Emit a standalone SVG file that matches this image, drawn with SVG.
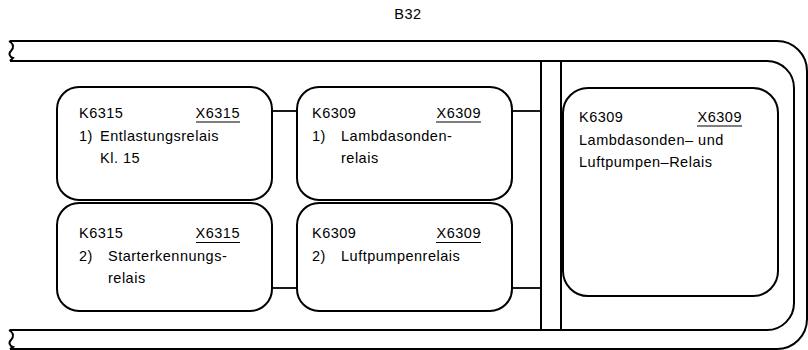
<svg xmlns="http://www.w3.org/2000/svg" width="808" height="350" viewBox="0 0 808 350">
<style>
.ln{fill:none;stroke:#000;stroke-width:2}
.bx{fill:#fff;stroke:#000;stroke-width:2}
.cn{fill:none;stroke:#000;stroke-width:1.8}
text{font-family:"Liberation Sans",Arial,sans-serif;font-size:14.5px;letter-spacing:0.5px;fill:#000}
.ul{stroke:#000;stroke-width:1.2}
</style>
<rect width="808" height="350" fill="#fff"/>
<text x="408" y="18.5" text-anchor="middle">B32</text>
<g id="frame">
<path class="ln" d="M10,41 H777 A30,30 0 0 1 807,71 V319 A30,30 0 0 1 777,349 H10"/>
<path class="ln" d="M10,61 H767 A27,27 0 0 1 794,88 V303 A27,27 0 0 1 767,330 H10"/>
<path class="ln" d="M9,41 C14,44 14,48 11,51 C8,54 10,57 13,58 L10,61"/>
<path class="ln" d="M9,330 C14,333 14,337 11,340 C8,343 10,346 13,347 L10,349"/>
<line class="ln" x1="541" y1="61" x2="541" y2="330"/>
<line class="ln" x1="561" y1="61" x2="561" y2="330"/>
</g>
<g id="connectors">
<line class="cn" x1="272" y1="111" x2="297" y2="111"/>
<line class="cn" x1="512" y1="111" x2="541" y2="111"/>
<line class="cn" x1="272" y1="288" x2="297" y2="288"/>
<line class="cn" x1="512" y1="288" x2="541" y2="288"/>
</g>
<g id="K6315-1">
<rect class="bx" x="57" y="87" width="215" height="113" rx="22"/>
<text x="79" y="118">K6315</text>
<text x="240" y="118" text-anchor="end">X6315</text>
<line class="ul" x1="196" y1="122" x2="240" y2="122"/>
<text x="79" y="140.5">1)</text>
<text x="100" y="140.5">Entlastungsrelais</text>
<text x="100" y="163">Kl. 15</text>
</g>
<g id="K6315-2">
<rect class="bx" x="57" y="203" width="215" height="108" rx="22"/>
<text x="79" y="238">K6315</text>
<text x="240" y="238" text-anchor="end">X6315</text>
<line class="ul" x1="196" y1="242.5" x2="240" y2="242.5"/>
<text x="79" y="260.5">2)</text>
<text x="108" y="260.5">Starterkennungs-</text>
<text x="108" y="283">relais</text>
</g>
<g id="K6309-1">
<rect class="bx" x="297" y="87" width="215" height="113" rx="22"/>
<text x="312" y="118">K6309</text>
<text x="481" y="118" text-anchor="end">X6309</text>
<line class="ul" x1="436" y1="122" x2="481" y2="122"/>
<text x="312" y="140.5">1)</text>
<text x="341" y="140.5">Lambdasonden-</text>
<text x="341" y="163">relais</text>
</g>
<g id="K6309-2">
<rect class="bx" x="297" y="203" width="215" height="108" rx="22"/>
<text x="312" y="238">K6309</text>
<text x="481" y="238" text-anchor="end">X6309</text>
<line class="ul" x1="436" y1="242.5" x2="481" y2="242.5"/>
<text x="312" y="260.5">2)</text>
<text x="341" y="260.5">Luftpumpenrelais</text>
</g>
<g id="K6309-3">
<rect class="bx" x="563" y="88" width="215" height="208" rx="25"/>
<text x="579" y="122">K6309</text>
<text x="742" y="122" text-anchor="end">X6309</text>
<line class="ul" x1="697" y1="126" x2="742" y2="126"/>
<text x="579" y="144.5">Lambdasonden– und</text>
<text x="579" y="167">Luftpumpen–Relais</text>
</g>
</svg>
